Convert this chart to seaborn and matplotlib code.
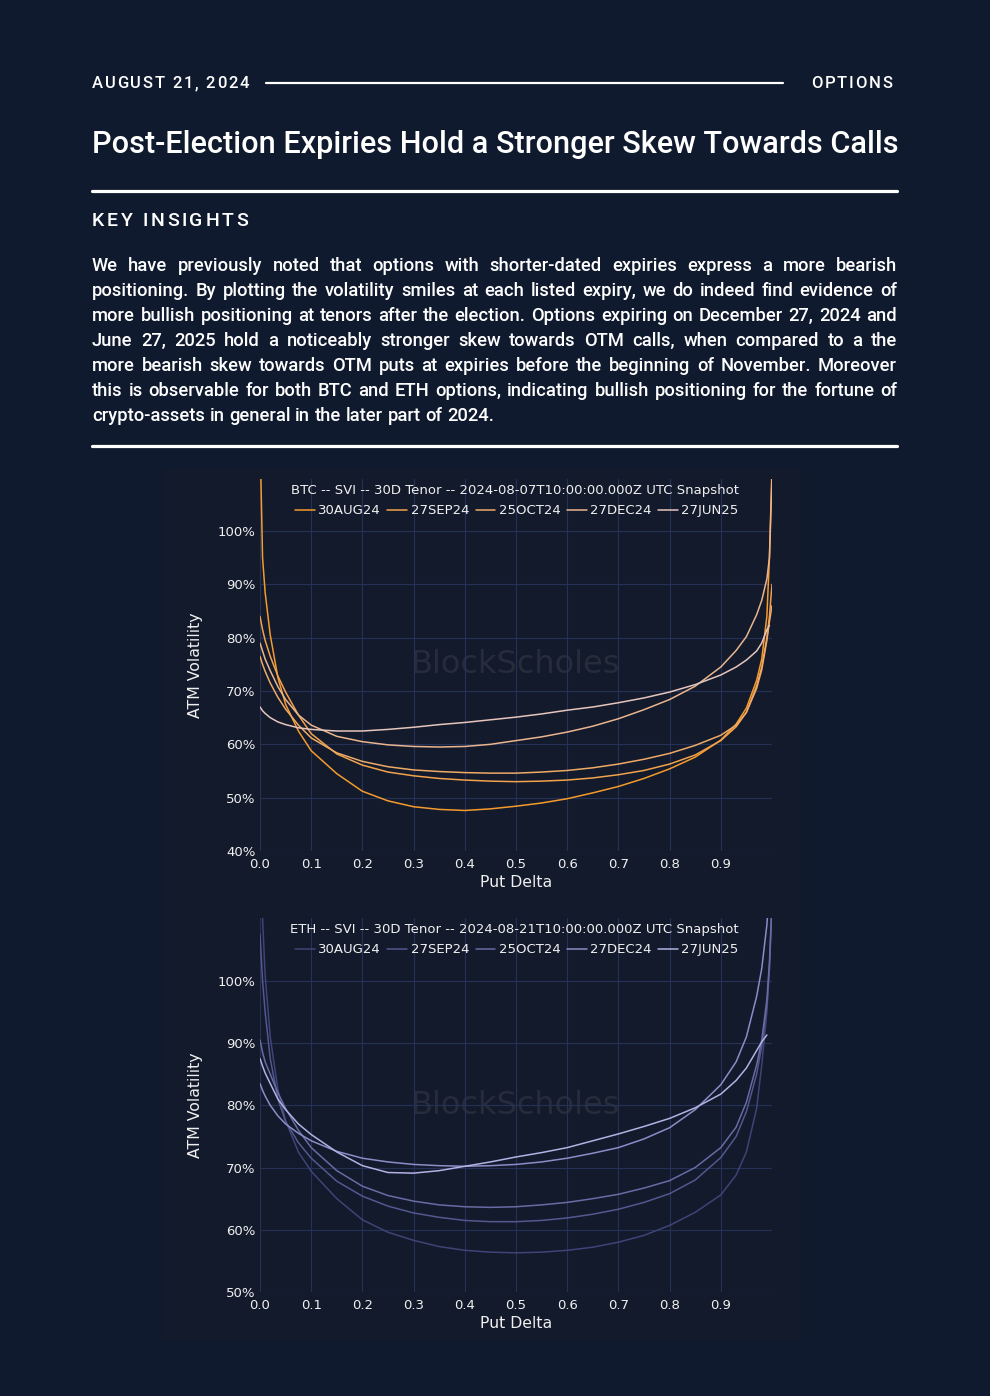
import matplotlib
matplotlib.use("Agg")
import matplotlib.pyplot as plt
from matplotlib.patches import Rectangle
import seaborn as sns
import numpy as np
import pandas as pd

# ==========================
# Data
# ==========================

delta = [0.0, 0.005, 0.01, 0.02, 0.035, 0.05, 0.075, 0.1, 0.15, 0.2, 0.25,
         0.3, 0.35, 0.4, 0.45, 0.5, 0.55, 0.6, 0.65, 0.7, 0.75, 0.8, 0.85,
         0.9, 0.93, 0.95, 0.97, 0.98, 0.99, 0.995, 1.0]

expiries = ["30AUG24", "27SEP24", "25OCT24", "27DEC24", "27JUN25"]

btc_30aug = [118, 95, 88.5, 80.5, 72.5, 67.5, 62.5, 58.8, 54.5, 51.2, 49.4,
             48.3, 47.8, 47.6, 47.9, 48.4, 49.0, 49.8, 50.9, 52.1, 53.6, 55.4, 57.6,
             60.8, 63.8, 66.8, 72.0, 76.0, 84.0, 95.0, 112.0]
btc_27sep = [84, 81.5, 79.5, 76.5, 72.8, 69.8, 65.5, 62.0, 58.2, 56.1, 54.8,
             54.1, 53.6, 53.3, 53.1, 53.0, 53.1, 53.3, 53.7, 54.3, 55.1, 56.3, 58.0,
             60.7, 63.3, 66.0, 71.0, 74.5, 80.0, 84.0, 90.0]
btc_25oct = [76.5, 75.0, 73.7, 71.5, 68.8, 66.6, 63.6, 61.2, 58.4, 56.8, 55.8,
             55.2, 54.9, 54.7, 54.6, 54.6, 54.8, 55.1, 55.6, 56.3, 57.2, 58.3, 59.8,
             61.7, 63.6, 66.0, 70.5, 74.0, 79.5, 83.0, 86.0]
btc_27dec = [79, 77.5, 76.0, 73.8, 70.8, 68.4, 65.5, 63.6, 61.5, 60.5, 59.9,
             59.6, 59.5, 59.6, 60.0, 60.7, 61.4, 62.3, 63.4, 64.8, 66.5, 68.4, 70.9,
             74.5, 77.6, 80.2, 84.3, 87.0, 91.0, 95.0, 110.0]
btc_27jun = [67, 66.3, 65.8, 65.0, 64.2, 63.7, 63.1, 62.8, 62.5, 62.5, 62.8,
             63.2, 63.7, 64.1, 64.6, 65.1, 65.7, 66.4, 67.0, 67.8, 68.7, 69.8, 71.2,
             73.0, 74.5, 75.8, 77.5, 79.0, 81.5, 82.3, np.nan]

eth_30aug = [120, 110, 101, 91, 82.5, 77.5, 72.5, 69.4, 65.0, 61.6, 59.6,
             58.3, 57.3, 56.7, 56.4, 56.3, 56.4, 56.7, 57.2, 58.0, 59.1, 60.7, 62.8,
             65.6, 68.8, 72.5, 79.5, 86.5, 95.0, 102.0, 115.0]
eth_27sep = [107.5, 100, 95, 87.5, 81.0, 77.4, 74.0, 71.5, 67.8, 65.4, 63.8,
             62.7, 62.0, 61.5, 61.3, 61.3, 61.5, 61.9, 62.5, 63.3, 64.4, 65.8, 68.0,
             71.6, 75.0, 79.0, 85.0, 89.5, 96.0, 102.0, 112.0]
eth_25oct = [90.5, 88.5, 87.0, 85.0, 82.0, 79.5, 76.0, 73.2, 69.5, 67.0, 65.5,
             64.6, 64.0, 63.7, 63.6, 63.7, 64.0, 64.4, 65.0, 65.7, 66.7, 67.9, 70.0,
             73.2, 76.5, 80.5, 86.5, 90.5, 97.0, 103.0, 112.0]
eth_27dec = [83.5, 82.4, 81.5, 80.0, 78.3, 77.0, 75.5, 74.3, 72.6, 71.5, 70.9,
             70.5, 70.3, 70.2, 70.3, 70.5, 70.9, 71.5, 72.3, 73.2, 74.6, 76.4, 79.3,
             83.3, 87.0, 91.0, 97.5, 102.0, 109.0, 115.0, np.nan]
eth_27jun = [87.5, 86.3, 85.2, 83.5, 81.0, 79.3, 77.0, 75.3, 72.5, 70.3, 69.2,
             69.1, 69.5, 70.2, 70.9, 71.7, 72.4, 73.2, 74.3, 75.4, 76.6, 77.9, 79.6,
             81.8, 84.0, 86.0, 88.8, 90.2, 91.3, np.nan, np.nan]

btc_colors = ["#f59a2c", "#f2a24b", "#eeaa67", "#eab58e", "#e6c5bd"]
eth_colors = ["#3f4476", "#53588f", "#686ca5", "#8b8dc7", "#b2b2e3"]

btc_title = "BTC -- SVI -- 30D Tenor -- 2024-08-07T10:00:00.000Z UTC Snapshot"
eth_title = "ETH -- SVI -- 30D Tenor -- 2024-08-21T10:00:00.000Z UTC Snapshot"

header_date = "AUGUST 21, 2024"
header_tag = "OPTIONS"
main_title = "Post-Election Expiries Hold a Stronger Skew Towards Calls"
section = "KEY INSIGHTS"
paragraph = [
    "We have previously noted that options with shorter-dated expiries express a more bearish",
    "positioning. By plotting the volatility smiles at each listed expiry, we do indeed find evidence of",
    "more bullish positioning at tenors after the election. Options expiring on December 27, 2024 and",
    "June 27, 2025 hold a noticeably stronger skew towards OTM calls, when compared to a the",
    "more bearish skew towards OTM puts at expiries before the beginning of November. Moreover",
    "this is observable for both BTC and ETH options, indicating bullish positioning for the fortune of",
    "crypto-assets in general in the later part of 2024.",
]


def long_form(series):
    rows = []
    for name, vals in zip(expiries, series):
        for d, v in zip(delta, vals):
            if not np.isnan(v):
                rows.append({"Put Delta": d, "vol": v, "expiry": name})
    return pd.DataFrame(rows)


btc_df = long_form([btc_30aug, btc_27sep, btc_25oct, btc_27dec, btc_27jun])
eth_df = long_form([eth_30aug, eth_27sep, eth_25oct, eth_27dec, eth_27jun])

# ==========================
# Figure
# ==========================

PAGE = "#101a2e"
PANEL = "#121a2c"
GRID = "#273156"
W, H = 990, 1396

sns.set_theme(style="dark")
plt.rcParams["font.family"] = ["DejaVu Sans"]

fig = plt.figure(figsize=(W / 100, H / 100), dpi=100, facecolor=PAGE)
renderer = fig.canvas.get_renderer()


def fx(x):
    return x / W


def fy(y):
    return 1 - y / H


def text_width(s, **kw):
    t = fig.text(0, 0, s, **kw)
    w = t.get_window_extent(renderer).width
    t.remove()
    return w


def tracked_text(x, y, s, tracking, **kw):
    # letter-spaced text, drawn char by char
    space = text_width("a a", **kw) - text_width("aa", **kw)
    for ch in s:
        if ch == " ":
            x += space + tracking
            continue
        fig.text(fx(x), fy(y), ch, va="baseline", ha="left", **kw)
        x += text_width(ch, **kw) + tracking
    return x


def hline(x0, x1, y, lw):
    fig.add_artist(plt.Line2D([fx(x0), fx(x1)], [fy(y), fy(y)], color="white",
                              lw=lw, transform=fig.transFigure))


head_kw = dict(fontsize=12, color="white", family="Roboto", fontweight="medium")

# header row
tracked_text(92, 88.5, header_date, 1.7, **head_kw)
tag_w = sum(text_width(c, **head_kw) + 1.7 for c in header_tag) - 1.7
tracked_text(892 - tag_w, 88.5, header_tag, 1.7, **head_kw)
hline(266, 783, 83, 1.6)

# title, fitted to the column width
title_kw = dict(color="white", family="Roboto", fontweight="medium")
tw = text_width(main_title, fontsize=20, **title_kw)
fig.text(fx(92), fy(153), main_title, fontsize=20 * 805 / tw, va="baseline", ha="left", **title_kw)
hline(92, 897, 191, 2.3)

tracked_text(92, 225.5, section, 2.6, fontsize=14, color="white",
             family="Roboto", fontweight="medium")

# justified paragraph
para_kw = dict(color="white", family="Roboto", fontweight="medium")
widest = max(text_width(line, fontsize=12, **para_kw) for line in paragraph)
para_fs = min(12 * 790 / widest, 13.5)
for i, line in enumerate(paragraph):
    base = 271 + 25 * i
    words = line.split(" ")
    widths = [text_width(wd, fontsize=para_fs, **para_kw) for wd in words]
    if i < len(paragraph) - 1:
        gap = (805 - sum(widths)) / (len(words) - 1)
    else:
        gap = text_width("a a", fontsize=para_fs, **para_kw) - text_width("aa", fontsize=para_fs, **para_kw)
    x = 92
    for wd, w in zip(words, widths):
        fig.text(fx(x), fy(base), wd, fontsize=para_fs, va="baseline", ha="left", **para_kw)
        x += w + gap

hline(92, 897, 446, 2.3)

# chart panel background
fig.add_artist(Rectangle((fx(162), fy(1340)), (800 - 162) / W, (1340 - 470) / H,
                         transform=fig.transFigure, color=PANEL, zorder=0))


def smile_panel(rect, df, colors, title, ylo, yhi, yticks):
    ax = fig.add_axes(rect)
    ax.set_facecolor(PANEL)
    sns.lineplot(data=df, x="Put Delta", y="vol", hue="expiry", hue_order=expiries,
                 palette=dict(zip(expiries, colors)), lw=1.1, errorbar=None,
                 sort=True, ax=ax)
    ax.set_xlim(0, 1.0)
    ax.set_ylim(ylo, yhi)
    ax.set_xticks([0.1 * k for k in range(10)])
    ax.set_xticklabels([f"{0.1 * k:.1f}" for k in range(10)])
    ax.set_yticks(yticks)
    ax.set_yticklabels([f"{v}%" for v in yticks])
    ax.grid(True, color=GRID, lw=0.8)
    ax.set_axisbelow(True)
    for s in ax.spines.values():
        s.set_visible(False)
    ax.tick_params(colors="#f0f0f0", labelsize=9.5, length=0)
    ax.tick_params(axis="x", pad=5)
    ax.tick_params(axis="y", pad=3)
    ax.set_xlabel("Put Delta", color="#f0f0f0", fontsize=11.3)
    ax.set_ylabel("ATM Volatility", color="#f0f0f0", fontsize=11.3)
    ax.xaxis.set_label_coords(0.5, -0.065)
    ax.yaxis.set_label_coords(-0.112, 0.5)
    ax.text(0.5, 0.5, "BlockScholes", transform=ax.transAxes, ha="center", va="center",
            fontsize=23, color="#272c3a", zorder=0)
    handles, labels = ax.get_legend_handles_labels()
    leg = ax.legend(handles, labels, title=title, ncol=5, loc="upper right",
                    bbox_to_anchor=(0.94, 0.994), frameon=False, fontsize=9.5,
                    title_fontsize=9.5, handlelength=1.5, handletextpad=0.25,
                    columnspacing=0.5, alignment="right", labelcolor="#f0f0f0",
                    borderpad=0.2, borderaxespad=0, labelspacing=0.55)
    leg.get_title().set_color("#f0f0f0")
    return ax


smile_panel([fx(260), fy(851), 512 / W, 372 / H], btc_df, btc_colors, btc_title,
            40, 109.75, [40, 50, 60, 70, 80, 90, 100])
smile_panel([fx(260), fy(1292), 512 / W, 374 / H], eth_df, eth_colors, eth_title,
            50, 110.1, [50, 60, 70, 80, 90, 100])

fig.savefig("out.png", dpi=100, facecolor=PAGE)
